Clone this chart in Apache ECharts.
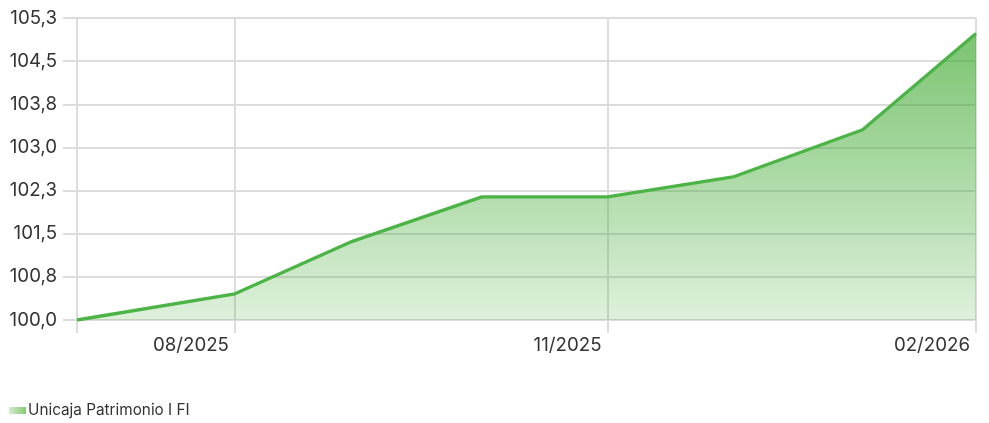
<!DOCTYPE html>
<html>
<head>
<meta charset="utf-8">
<script src="https://cdn.jsdelivr.net/npm/echarts@6/dist/echarts.min.js"></script>
<style>
html,body{margin:0;padding:0;background:#fff;}
#chart{width:989px;height:423px;}
</style>
</head>
<body>
<div id="chart"></div>
<script>
const seriesName = 'Unicaja Patrimonio I FI';
const dates = ['2025-06-22','2025-07-31','2025-08-29','2025-09-30','2025-10-31','2025-12-01','2026-01-02','2026-01-30'];
const values = [100.00, 100.46, 101.38, 102.16, 102.16, 102.51, 103.34, 105.03];
const xTickDates = ['2025-07-31','2025-10-31','2026-01-30'];
const xTickLabels = ['08/2025','11/2025','02/2026'];
const yTickValues = [100.0, 100.757, 101.514, 102.271, 103.029, 103.786, 104.543, 105.3];
const yTickLabels = ['100,0','100,8','101,5','102,3','103,0','103,8','104,5','105,3'];

// day number since the first date (value axis)
function dayNum(s){ const p = s.split('-').map(Number); return Math.round(Date.UTC(p[0], p[1]-1, p[2]) / 86400000); }
const day0 = dayNum(dates[0]);
function dx(s){ return dayNum(s) - day0; }

const xMin = 0;
const xMax = dx(dates[dates.length-1]);
const xTickPos = xTickDates.map(dx);
const gridColor = '#dcdcdc';
const font = 'Inter, "Noto Sans", sans-serif';

const chart = echarts.init(document.getElementById('chart'), null, {renderer:'canvas'});
chart.setOption({
  animation: false,
  textStyle: {fontFamily: font},
  grid: {left: 77, right: 13, top: 18, bottom: 103, outerBoundsMode: 'none'},
  legend: {
    left: 9, top: 403, padding: 0, itemWidth: 17, itemHeight: 7, icon: 'rect',
    textStyle: {fontSize: 15.3, color: '#333', fontFamily: font, padding: [0,0,0,-3]},
    data: [{name: seriesName, itemStyle: {color: new echarts.graphic.LinearGradient(0,0,1,0,[
      {offset:0, color:'#d3ebcd'},{offset:1, color:'#86c975'}])}}]
  },
  xAxis: {
    type: 'value', min: xMin, max: xMax,
    axisLine: {show: true, lineStyle: {color: gridColor, width: 2}},
    axisTick: {show: true, length: 13, lineStyle: {color: gridColor, width: 2}, customValues: [xMin].concat(xTickPos)},
    splitLine: {show: true, lineStyle: {color: gridColor, width: 2}},
    axisLabel: {
      customValues: xTickPos, align: 'right', margin: 16, padding: [0,6,0,0],
      fontSize: 18.7, color: '#333', fontFamily: font,
      formatter: function(v){ const i = xTickPos.findIndex(t => Math.abs(t - v) < 1e-6); return i >= 0 ? xTickLabels[i] : ''; }
    }
  },
  yAxis: {
    type: 'value', min: 100, max: 105.3,
    axisLine: {show: true, lineStyle: {color: gridColor, width: 2}},
    axisTick: {show: true, length: 14, lineStyle: {color: gridColor, width: 2}, customValues: yTickValues},
    splitLine: {show: true, lineStyle: {color: gridColor, width: 2}},
    axisLabel: {
      customValues: yTickValues, margin: 20, fontSize: 18.7, color: '#333', fontFamily: font,
      formatter: function(v){ const i = yTickValues.findIndex(t => Math.abs(t - v) < 1e-6); return i >= 0 ? yTickLabels[i] : ''; }
    }
  },
  series: [{
    name: seriesName, type: 'line', showSymbol: false, symbol: 'none',
    data: dates.map((d,i) => [dx(d), values[i]]),
    lineStyle: {color: '#4cb446', width: 3.3},
    itemStyle: {color: '#4cb446'},
    areaStyle: {opacity: 1, color: new echarts.graphic.LinearGradient(0,0,0,1,[
      {offset:0, color:'rgba(60,168,45,0.68)'},{offset:1, color:'rgba(60,168,45,0.17)'}])}
  }]
});
</script>
</body>
</html>
